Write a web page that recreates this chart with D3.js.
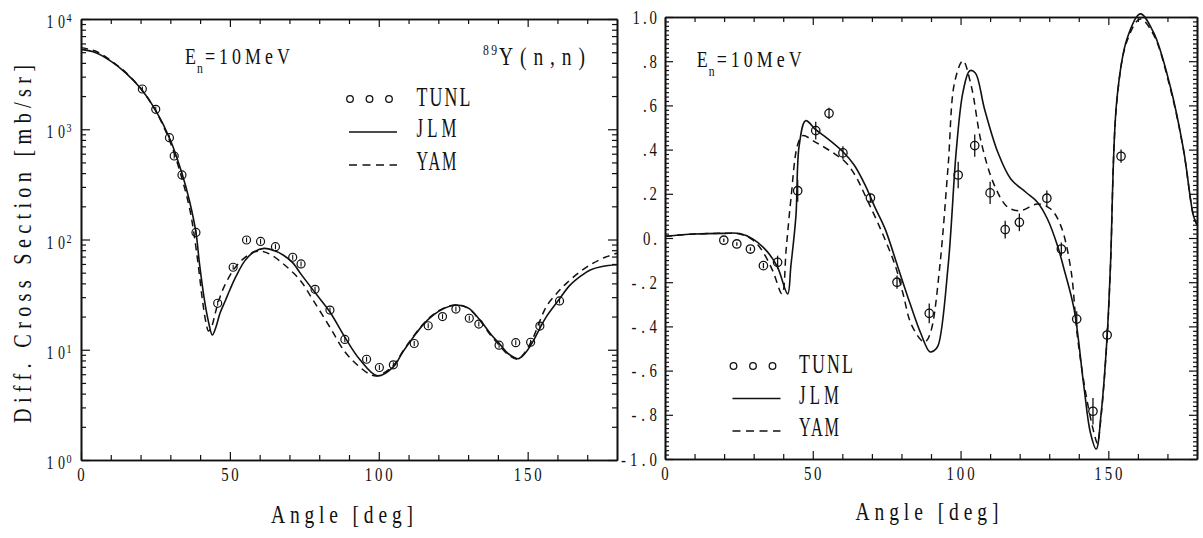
<!DOCTYPE html>
<html><head><meta charset="utf-8">
<script src="https://cdn.jsdelivr.net/npm/d3@7"></script>
<style>
body{margin:0;background:#fff}
svg{display:block;background:#fff}
text{font-family:"Liberation Serif","Times New Roman",serif;fill:#111}
</style></head><body>
<svg id="c" width="1203" height="538"></svg>
<script>
// ---------------- data ----------------
// Left panel: differential cross section (mb/sr) vs angle (deg)
const tunlLeftAngle = [20.6,25.1,29.7,31.3,33.9,38.6,45.9,51.1,55.6,60.3,65.3,71.1,73.9,78.6,83.6,88.6,95.9,100.2,104.9,111.9,116.6,121.4,125.9,130.4,133.6,140.4,146.0,151.0,154.1,160.7];
const tunlLeftValue = [2317,1517,838,572,385,116,26.4,56,99,96,86,69,60,35.3,22.9,12.4,8.2,6.9,7.3,11.4,16.5,20,23.4,19.3,17.1,11.0,11.6,11.7,16.4,27.7];
const jlmLeft = [[0,5300],[5,4950],[10,4150],[15,3250],[20,2350],[25,1500],[30,800],[34,390],[36.5,220],[38.6,116],[39.8,60],[41.3,30],[42.8,18],[44.1,13.6],[45.3,16],[46.7,21.5],[48.5,28],[50,35],[52,46],[55,64],[58,77],[61.5,83],[65,79],[68,72],[71,62],[74,48],[78.6,33],[83.6,22],[88.6,13],[93.7,8.1],[99.5,5.8],[104.9,7.0],[108,9.5],[111.6,13],[115,17],[118.4,20.7],[122,23.8],[126.2,25.5],[130,24],[134,18.6],[137.5,14],[140.7,11.2],[143.5,9.2],[146.8,8.3],[149,9.2],[151.8,11.9],[154,15.5],[156.3,20],[160.7,29],[164,38],[168,47],[171,53],[175,57],[180,59]];
const yamLeft = [[0,5500],[5,5100],[10,4200],[15,3280],[20,2350],[25,1480],[30,760],[34,350],[36.5,190],[38,110],[39.5,55],[40.8,28],[42,17.5],[42.8,14.8],[43.8,16],[45,21],[46.1,27],[48,37],[51.2,53],[54,65],[58,77],[61,78],[64,72],[68,60],[73.5,43],[78,28],[83.6,16],[88.6,9.6],[93,7.2],[97,6.0],[99.5,5.8],[104.9,7.2],[108,9.6],[111.6,13.2],[115,17.2],[118.4,21],[122,24],[126.2,25.5],[130,23.8],[134,18.4],[137.5,13.6],[140.7,10.8],[143.5,9.0],[146.8,8.2],[149,9.4],[151.8,12.8],[154,18],[156.4,25],[160,33],[163,40],[167.6,51],[172,61],[176,69],[180,75]];
const logTickExps = [0,1,2,3,4];

// Right panel: analyzing power vs angle (deg)
const tunlRightAngle = [19.9,24.3,28.9,33.3,38.1,44.9,51.0,55.5,60.2,69.5,78.5,89.4,99.2,104.8,110.0,115.1,119.9,129.2,134.1,139.3,144.8,149.6,154.3];
const tunlRightValue = [-0.01,-0.027,-0.05,-0.125,-0.11,0.214,0.486,0.564,0.385,0.181,-0.2,-0.341,0.285,0.418,0.204,0.038,0.071,0.18,-0.05,-0.367,-0.784,-0.439,0.37];
const tunlRightError = [0.008,0.008,0.008,0.012,0.03,0.05,0.04,0.025,0.03,0.02,0.03,0.045,0.06,0.05,0.05,0.04,0.04,0.035,0.03,0.035,0.06,0.03,0.03];
const jlmRight = [[0,0.008],[10,0.018],[19.6,0.021],[25.3,0.02],[29.8,-0.005],[34.3,-0.057],[38,-0.13],[41.5,-0.253],[42.6,-0.125],[44.3,0.1],[45.4,0.418],[47.6,0.531],[51,0.49],[55,0.45],[60.2,0.39],[64,0.33],[67.8,0.237],[71,0.14],[74.5,0.04],[79,-0.14],[83,-0.3],[86.5,-0.43],[89.6,-0.515],[91,-0.51],[92.4,-0.487],[95.8,-0.125],[98.6,0.403],[100.8,0.659],[103.1,0.757],[105,0.747],[108.1,0.584],[112.6,0.388],[117,0.267],[122.1,0.207],[126,0.162],[129.4,0.086],[132.8,-0.035],[135,-0.14],[138.4,-0.321],[141.7,-0.668],[143.9,-0.879],[145.9,-0.955],[147.6,-0.789],[149.6,-0.442],[150.7,-0.13],[152.9,0.629],[156.3,0.9],[160.8,1.014],[165.3,0.93],[170.9,0.689],[175.4,0.403],[178.8,0.1],[180,0.06]];
const yamRight = [[0,0.008],[10,0.018],[19.6,0.021],[25.3,0.018],[29.8,-0.01],[33,-0.06],[36.5,-0.15],[39.6,-0.253],[41,-0.05],[42.6,0.176],[44.8,0.418],[46.5,0.463],[51,0.433],[56.6,0.388],[61.1,0.343],[64.5,0.28],[67.8,0.19],[73.4,0.026],[77.9,-0.125],[80.5,-0.25],[83.3,-0.39],[87.4,-0.47],[88.5,-0.465],[90.2,-0.41],[93,-0.125],[95.8,0.327],[98,0.705],[100.8,0.802],[103.6,0.689],[107,0.433],[111.5,0.237],[116,0.139],[120.3,0.124],[126,0.154],[130.5,0.131],[133.9,0.056],[137.3,-0.14],[139.5,-0.442],[142.9,-0.743],[145.7,-0.91],[146.3,-0.93],[147.6,-0.8],[149.6,-0.45],[150.7,-0.14],[152.9,0.62],[156.3,0.89],[160.8,0.991],[165.3,0.92],[170.9,0.68],[175.4,0.4],[178.8,0.1],[180,0.06]];
const rightTickValues = [-1,-0.8,-0.6,-0.4,-0.2,0,0.2,0.4,0.6,0.8,1.0];
const rightTickLabels = ["-1.0","-.8","-.6","-.4","-.2","0.",".2",".4",".6",".8","1.0"];

const xTickMajor = [0,50,100,150];
const xTickLabels = ["0","50","100","150"];
const legendNames = ["TUNL","JLM","YAM"];
const xTitle = "Angle [deg]";
const yTitleLeft = "Diff. Cross Section [mb/sr]";

// ---------------- helpers ----------------
const svg = d3.select("#c");
const SX = 0.78;
function label(g, x, y, s, size, w, anchor="start", rot=0, sx=SX){
  const t = g.append("text")
    .attr("transform", `translate(${x},${y})${rot?` rotate(${rot})`:""} scale(${sx},1)`)
    .attr("font-size", size).attr("text-anchor", anchor).text(s);
  if (w) t.attr("textLength", w/sx).attr("lengthAdjust","spacing");
  return t;
}
function tw(s){
  let w = 0;
  for (const ch of s) w += ch==="." ? 3.5 : ch==="-" ? 8 : 7;
  return w + 3.5*(s.length-1);
}
function styleAxis(g){
  g.selectAll(".domain").attr("stroke","#111").attr("stroke-width",1.6);
  g.selectAll(".tick line").attr("stroke","#111").attr("stroke-width",1.2);
  g.selectAll(".tick text").remove();
}
const minorX = d3.range(10,180,10).filter(v => v%50!==0);

// ---------------- left panel ----------------
const xL = d3.scaleLinear().domain([0,180]).range([81,617]);
const yL = d3.scaleLog().domain([1,1e4]).range([460,19]);
const gL = svg.append("g");
const logMinor = [];
for (const e of [0,1,2,3]) for (let m=2;m<=9;m++) logMinor.push(m*Math.pow(10,e));
const logMajor = logTickExps.map(e => Math.pow(10,e));

function frameAxes(g, xs, ys, yMajor, yMinor, yMajLen, yMinLen){
  const [x0,x1] = xs.range(), [y0,y1] = ys.range();
  const a = [];
  a.push(g.append("g").attr("transform",`translate(0,${y0})`).call(d3.axisBottom(xs).tickValues(minorX).tickSize(-5).tickSizeOuter(0)));
  a.push(g.append("g").attr("transform",`translate(0,${y0})`).call(d3.axisBottom(xs).tickValues(xTickMajor).tickSize(-8).tickSizeOuter(0)));
  a.push(g.append("g").attr("transform",`translate(0,${y1})`).call(d3.axisTop(xs).tickValues(minorX).tickSize(-5).tickSizeOuter(0)));
  a.push(g.append("g").attr("transform",`translate(0,${y1})`).call(d3.axisTop(xs).tickValues(xTickMajor).tickSize(-8).tickSizeOuter(0)));
  a.push(g.append("g").attr("transform",`translate(${x0},0)`).call(d3.axisLeft(ys).tickValues(yMinor).tickSize(-yMinLen).tickSizeOuter(0)));
  a.push(g.append("g").attr("transform",`translate(${x0},0)`).call(d3.axisLeft(ys).tickValues(yMajor).tickSize(-yMajLen).tickSizeOuter(0)));
  a.push(g.append("g").attr("transform",`translate(${x1},0)`).call(d3.axisRight(ys).tickValues(yMinor).tickSize(-yMinLen).tickSizeOuter(0)));
  a.push(g.append("g").attr("transform",`translate(${x1},0)`).call(d3.axisRight(ys).tickValues(yMajor).tickSize(-yMajLen).tickSizeOuter(0)));
  a.forEach(styleAxis);
}
frameAxes(gL, xL, yL, logMajor, logMinor, 9, 5);

// x tick labels
xTickMajor.forEach((v,i) => label(gL, xL(v), 481, xTickLabels[i], 19, tw(xTickLabels[i]), "middle"));
// y tick labels 10^n
logTickExps.forEach(e => {
  const y = yL(Math.pow(10,e));
  label(gL, 46.5, y+9, "10", 18, 18.5, "start");
  label(gL, 66.5, y+3, String(e), 13, null, "start");
});

const lineL = d3.line().x(d => xL(d[0])).y(d => yL(d[1])).curve(d3.curveCatmullRom.alpha(0.5));
gL.append("path").attr("d", lineL(jlmLeft)).attr("fill","none").attr("stroke","#111").attr("stroke-width",1.6);
gL.append("path").attr("d", lineL(yamLeft)).attr("fill","none").attr("stroke","#111").attr("stroke-width",1.5).attr("stroke-dasharray","7,5");

const ptsL = gL.append("g");
tunlLeftAngle.forEach((a,i) => {
  const cx = xL(a), cy = yL(tunlLeftValue[i]);
  ptsL.append("circle").attr("cx",cx).attr("cy",cy).attr("r",4).attr("fill","none").attr("stroke","#111").attr("stroke-width",1.2);
  ptsL.append("line").attr("x1",cx).attr("x2",cx).attr("y1",cy-2.5).attr("y2",cy+2.5).attr("stroke","#111").attr("stroke-width",1.1);
});

// annotations left
label(gL, 185, 63.5, "E", 23, 11, "start");
label(gL, 197, 73, "n", 15, null, "start");
label(gL, 205, 63.5, "=10MeV", 23, 85, "start");
label(gL, 483, 55, "89", 15, 14, "start");
label(gL, 499, 65, "Y(n,n)", 25, 86, "start");

// legend
function legend(g, x0, yTop, step, textX){
  const names = legendNames;
  [0,1,2].forEach(k => g.append("circle").attr("cx", x0+1+k*19.5).attr("cy", yTop).attr("r",3.3).attr("fill","none").attr("stroke","#111").attr("stroke-width",1.3));
  g.append("line").attr("x1",x0).attr("x2",x0+48).attr("y1",yTop+step).attr("y2",yTop+step).attr("stroke","#111").attr("stroke-width",1.5);
  g.append("line").attr("x1",x0).attr("x2",x0+48).attr("y1",yTop+2*step).attr("y2",yTop+2*step).attr("stroke","#111").attr("stroke-width",1.5).attr("stroke-dasharray","8,5.5");
  label(g, textX, yTop+7, names[0], 27, 54, "start", 0, 0.66);
  label(g, textX, yTop+step+5, names[1], 27, 40, "start", 0, 0.62);
  label(g, textX, yTop+2*step+5, names[2], 27, 40, "start", 0, 0.6);
}
legend(gL, 349, 99, 33, 416.5);

// axis titles left
label(gL, 342, 523, xTitle, 25, 142, "middle");
label(gL, 31, 244, yTitleLeft, 26, 358, "middle", -90);

// ---------------- right panel ----------------
const xR = d3.scaleLinear().domain([0,180]).range([665,1197]);
const yR = d3.scaleLinear().domain([-1,1]).range([459,17]);
const gR = svg.append("g");
const rMinor = d3.range(-100,101,2).filter(v => v%20!==0).map(v => v/100);
frameAxes(gR, xR, yR, rightTickValues, rMinor, 8, 4);

xTickMajor.forEach((v,i) => label(gR, xR(v), 480, xTickLabels[i], 19, tw(xTickLabels[i]), "middle"));
rightTickValues.forEach((v,i) => label(gR, 657, yR(v)+6.5, rightTickLabels[i], 19, tw(rightTickLabels[i]), "end"));

const lineR = d3.line().x(d => xR(d[0])).y(d => yR(d[1])).curve(d3.curveCatmullRom.alpha(0.5));
gR.append("path").attr("d", lineR(jlmRight)).attr("fill","none").attr("stroke","#111").attr("stroke-width",1.6);
gR.append("path").attr("d", lineR(yamRight)).attr("fill","none").attr("stroke","#111").attr("stroke-width",1.5).attr("stroke-dasharray","7,5");

const ptsR = gR.append("g");
tunlRightAngle.forEach((a,i) => {
  const cx = xR(a), cy = yR(tunlRightValue[i]);
  const e = tunlRightError[i];
  ptsR.append("line").attr("x1",cx).attr("x2",cx).attr("y1",yR(tunlRightValue[i]+e)).attr("y2",yR(tunlRightValue[i]-e)).attr("stroke","#111").attr("stroke-width",1.3);
  ptsR.append("circle").attr("cx",cx).attr("cy",cy).attr("r",4.2).attr("fill","none").attr("stroke","#111").attr("stroke-width",1.3);
});

label(gR, 696.7, 66.5, "E", 23, 11, "start");
label(gR, 708.7, 76, "n", 15, null, "start");
label(gR, 716.7, 66.5, "=10MeV", 23, 85, "start");

legend(gR, 732.5, 366, 32.5, 799);

label(gR, 927, 520, xTitle, 25, 143, "middle");
</script>
</body></html>
